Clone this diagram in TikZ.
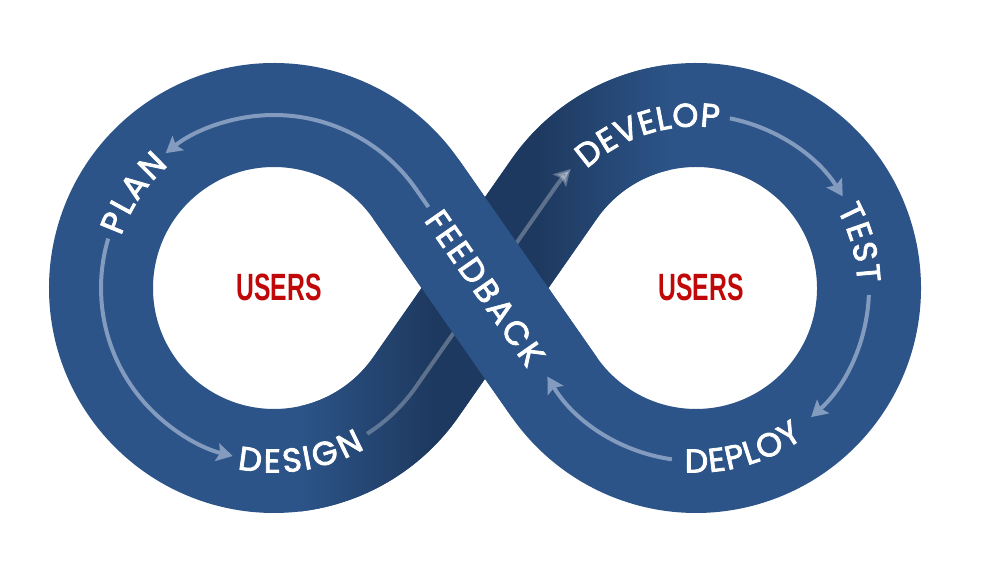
\documentclass[tikz,border=0pt]{standalone}
\usepackage{fontspec}
\usetikzlibrary{decorations.text,arrows.meta,calc}
\newfontfamily\labfont[FakeBold=2.5]{Poppins}
\newfontfamily\userfont[FakeStretch=0.65]{Liberation Sans}
\definecolor{bandc}{RGB}{44,84,136}
\definecolor{darkc}{RGB}{30,57,95}
\definecolor{arrowc}{RGB}{130,155,190}
\definecolor{userc}{RGB}{192,8,8}
\pgfdeclarehorizontalshading{undershade}{100bp}{color(0bp)=(bandc); color(25bp)=(bandc); color(43bp)=(darkc); color(57bp)=(darkc); color(75bp)=(bandc); color(100bp)=(bandc)}
\def\ta{34.93}
\begin{document}
\begin{tikzpicture}[x=1pt,y=1pt,
  band/.style={line width=104pt, draw=bandc, line join=round},
  flow/.style={line width=4pt, draw=arrowc, -{Stealth[length=16pt,width=18pt,inset=3pt]}},
  flowunder/.style={line width=4pt, draw=white, opacity=0.28, -{Stealth[length=16pt,width=18pt,inset=3pt]}},
  lbl/.style={decorate, decoration={text effects along path, text={#1},
     text effects/.cd, text along path, fit text to path,
     characters={anchor=center, inner sep=0pt, text=white, font=\labfont\fontsize{33}{33}\selectfont}}},
  userlbl/.style={text=userc, font=\userfont\bfseries\fontsize{38}{38}\selectfont, inner sep=0pt}]
\fill[white] (0,0) rectangle (988,582);
\useasboundingbox (0,0) rectangle (988,582);
\coordinate (L) at (274,294);
\coordinate (R) at (696,294);
\coordinate (C) at (485,294);
\coordinate (T1) at ($(L)+(-\ta:173)$);
\coordinate (T3) at ($(L)+(\ta:173)$);
\coordinate (T2) at ($(R)+(180-\ta:173)$);
\coordinate (T4) at ($(R)+(180+\ta:173)$);
% whole band
\draw[band] (T3) arc[start angle=\ta, end angle=360-\ta, radius=173] -- (T2)
  arc[start angle=180-\ta, end angle=-180+\ta, radius=173] -- cycle;
% shading of the under strand
\begin{scope}
\clip ($(L)+(-90:225)$) arc[start angle=-90, end angle=-\ta, radius=225]
  -- ($(R)+(180-\ta:121)$) arc[start angle=180-\ta, end angle=90, radius=121]
  -- ($(R)+(90:225)$) arc[start angle=90, end angle=180-\ta, radius=225]
  -- ($(L)+(-\ta:121)$) arc[start angle=-\ta, end angle=-90, radius=121] -- cycle;
\shade[shading=undershade] (300,40) rectangle (670,545);
\end{scope}
% arrow under the crossing
\draw[flowunder] ($(L)+(-57.4:173)$) arc[start angle=-57.4, end angle=-\ta, radius=173]
  -- (T2) arc[start angle=180-\ta, end angle=136.5, radius=173];
% top strand
\draw[band, line cap=butt] (T4) -- (T3);
% other arrows
\draw[flow] ($(T3)!22pt!(C)$) -- (T3) arc[start angle=\ta, end angle=128.8, radius=173];
\draw[flow] ($(L)+(163.4:173)$) arc[start angle=163.4, end angle=256.2, radius=173];
\draw[flow] ($(R)+(78.7:173)$) arc[start angle=78.7, end angle=32, radius=173];
\draw[flow] ($(R)+(-2.3:173)$) arc[start angle=-2.3, end angle=-48.3, radius=173];
\draw[flow] ($(R)+(-98:173)$) arc[start angle=-98, end angle=-149.2, radius=173];
% labels
\path[lbl=PLAN] ($(L)+(161:173)$) arc[start angle=161, end angle=131, radius=173];
\path[lbl=DESIGN] ($(L)+(-101.7:173)$) arc[start angle=-101.7, end angle=-60.3, radius=173];
\path[lbl=DEVELOP] ($(R)+(132.3:173)$) arc[start angle=132.3, end angle=82.1, radius=173];
\path[lbl=TEST] ($(R)+(28.8:173)$) arc[start angle=28.8, end angle=2, radius=173];
\path[lbl=DEPLOY] ($(R)+(-93.7:173)$) arc[start angle=-93.7, end angle=-54.3, radius=173];
\path[lbl=FEEDBACK] ($(C)+(124.93:90.5)$) -- ($(C)+(-55.07:90.5)$);
\node[userlbl] (u1) at (279,295) {USERS};
\node[userlbl] (u2) at (701,295) {USERS};
\end{tikzpicture}
\end{document}
